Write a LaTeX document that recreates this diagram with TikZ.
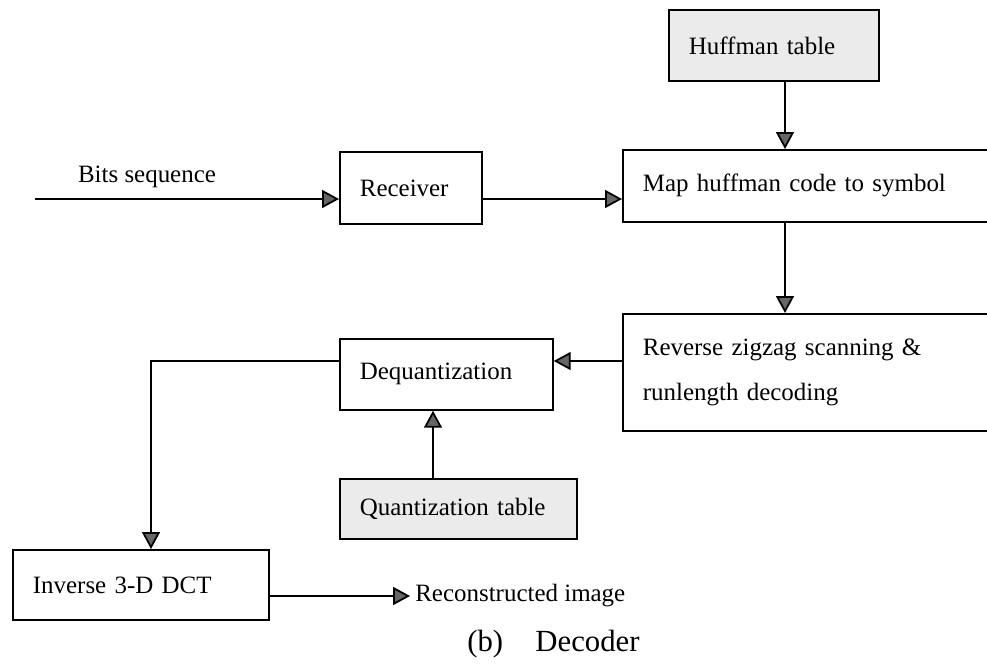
\documentclass[tikz,border=0pt]{standalone}
\usepackage{fontspec}
\setmainfont{Liberation Serif}
\usetikzlibrary{arrows.meta}

\begin{document}
\begin{tikzpicture}[x=0.02cm, y=-0.02cm,
	blk/.style={draw, line width=1pt, anchor=north west, inner xsep=0.4cm, inner ysep=0pt, align=left},
	tbl/.style={blk, fill=black!8},
	arw/.style={line width=1pt, -{Triangle[length=0.34cm, width=0.36cm, fill=black!60]}},
	font=\fontsize{14.2}{17}\selectfont]
		%%%%% START %%%%%
		\useasboundingbox (0,0) rectangle (987,663);
		\clip (0,0) rectangle (987,663);
		
		\node[tbl, text width=3.4cm, minimum height=1.42cm] (huff) at (668,9) {Huffman table};
		\node[blk, text width=6.76cm, minimum height=1.44cm] (map) at (622,149) {Map huffman code to symbol};
		\node[blk, text width=2.04cm, minimum height=1.44cm] (rcv) at (339,151) {Receiver};
		\node[blk, text width=6.76cm, minimum height=2.34cm, font=\fontsize{14.2}{25.5}\selectfont] (rzz) at (622,313) {Reverse zigzag scanning \&\\runlength decoding};
		\node[blk, text width=3.46cm, minimum height=1.42cm] (deq) at (339,338) {Dequantization};
		\node[tbl, text width=3.94cm, minimum height=1.2cm] (qnt) at (339,478) {Quantization table};
		\node[blk, text width=4.32cm, minimum height=1.4cm] (inv) at (12,549) {Inverse 3-D DCT};
		
		\coordinate (bits) at (35,199);
		\coordinate (colx) at (785,0);
		\coordinate (rowy) at (0,361);
		\coordinate (qx) at (433,0);
		\coordinate (dx) at (151,0);
		
		\node (bitslbl) at (147,177) {Bits sequence};
		\node[anchor=west, inner xsep=0.1cm] (rec) at (410,596) {Reconstructed image};
		\node[anchor=base west, inner sep=0pt, font=\fontsize{17.5}{20}\selectfont] (cap) at (467,651) {(b)\hspace{1.05em}Decoder};
		
		\draw[arw] (bits) -- (bits -| rcv.west);
		\draw[arw] (rcv.east |- bits) -- (bits -| map.west);
		\draw[arw] (huff.south -| colx) -- (map.north -| colx);
		\draw[arw] (map.south -| colx) -- (rzz.north -| colx);
		\draw[arw] (rzz.west |- rowy) -- (deq.east |- rowy);
		\draw[arw] (qnt.north -| qx) -- (deq.south -| qx);
		\draw[arw] (deq.west |- rowy) -- (dx |- rowy) -- (inv.north -| dx);
		\draw[arw] (inv.east |- rec.west) -- (rec.west);
		
		%%%%% END %%%%%
	\end{tikzpicture}
\end{document}
